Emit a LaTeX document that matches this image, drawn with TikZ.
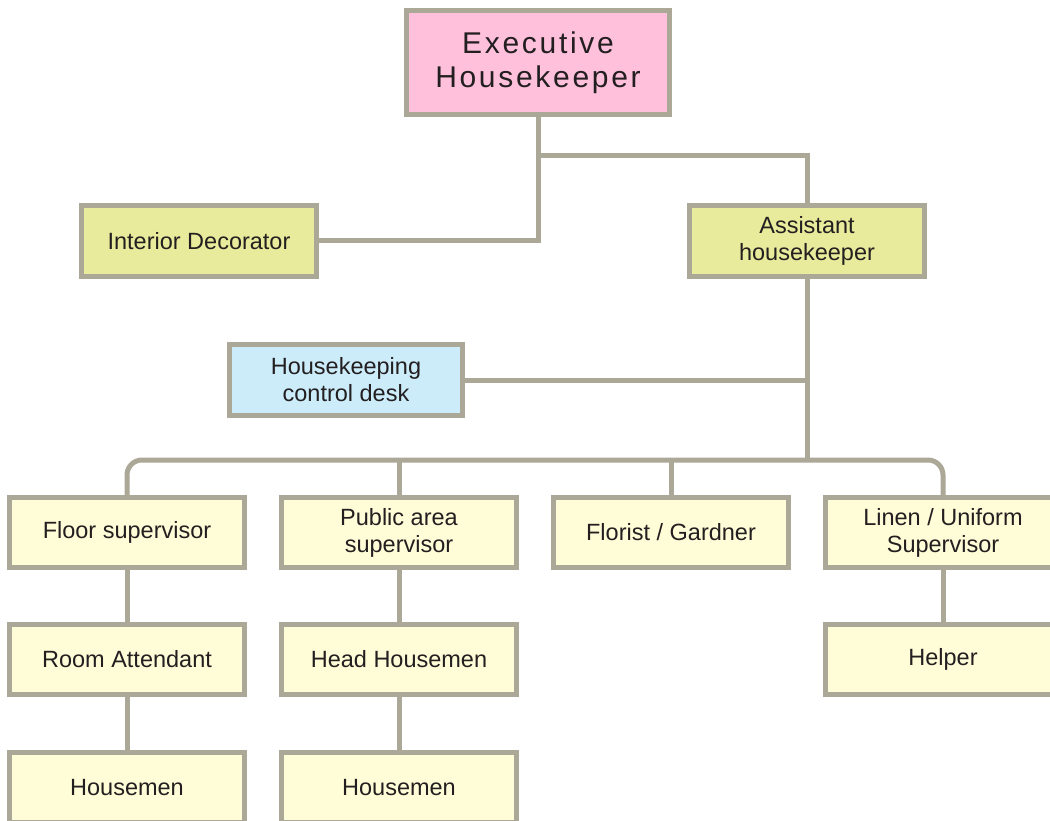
\documentclass[tikz,border=0pt]{standalone}
\usepackage{fontspec}
\setmainfont{Liberation Sans}
\newfontfamily\execfont[LetterSpace=9]{Liberation Sans}
\definecolor{linec}{RGB}{171,168,152}
\definecolor{pinkf}{RGB}{255,192,219}
\definecolor{greenf}{RGB}{232,235,155}
\definecolor{yellowf}{RGB}{255,252,216}
\definecolor{bluef}{RGB}{204,236,250}
\definecolor{textc}{RGB}{35,31,32}
\begin{document}
\begin{tikzpicture}[x=1pt,y=-1pt,
  box/.style={draw=linec,line width=5pt,minimum width=235pt,minimum height=70pt,inner sep=0pt,align=center,text=textc,font=\fontsize{23.5}{27}\selectfont},
  conn/.style={draw=linec,line width=5pt}]
\useasboundingbox (0,0) rectangle (1050,821);
\clip (0,0) rectangle (1050,821);
\fill[white] (0,0) rectangle (1050,821);
% top
\node[box,fill=pinkf,minimum width=263pt,minimum height=104pt,font=\execfont\fontsize{30}{33.5}\selectfont] (exec) at (538,62.5) {Executive\\Housekeeper};
\node[box,fill=greenf,minimum height=71pt] (interior) at (199,241) {Interior Decorator};
\node[box,fill=greenf,minimum height=71pt] (asst) at (807,241) {Assistant\\housekeeper};
\node[box,fill=bluef,minimum width=233pt,minimum height=71pt] (desk) at (346,380) {Housekeeping\\control desk};
% row 1
\node[box,fill=yellowf] (floor) at (127,532.5) {Floor supervisor};
\node[box,fill=yellowf] (public) at (399,532.5) {Public area\\supervisor};
\node[box,fill=yellowf] (florist) at (671,532.5) {Florist / Gardner};
\node[box,fill=yellowf] (linen) at (943,532.5) {Linen / Uniform\\Supervisor};
% row 2
\node[box,fill=yellowf] (room) at (127,659.5) {Room Attendant};
\node[box,fill=yellowf] (head) at (399,659.5) {Head Housemen};
\node[box,fill=yellowf] (helper) at (943,659.5) {Helper};
% row 3
\node[box,fill=yellowf] (hm1) at (127,787.5) {Housemen};
\node[box,fill=yellowf] (hm2) at (399,787.5) {Housemen};
% coordinates
\coordinate (j1) at (538,156);
\coordinate (busy) at (0,460);
% connectors
\draw[conn] (exec.south) -- (exec.south |- interior.east) -- (interior.east);
\draw[conn] (j1) -| (asst.north);
\draw[conn] (asst.south) -- (asst.south |- busy);
\draw[conn] (desk.east) -- (desk.east -| asst.south);
\draw[conn,rounded corners=15pt] (floor.north) |- (busy -| asst.south) -| (linen.north);
\draw[conn] (public.north) -- (public.north |- busy);
\draw[conn] (florist.north) -- (florist.north |- busy);
\draw[conn] (floor.south) -- (room.north);
\draw[conn] (room.south) -- (hm1.north);
\draw[conn] (public.south) -- (head.north);
\draw[conn] (head.south) -- (hm2.north);
\draw[conn] (linen.south) -- (helper.north);
\end{tikzpicture}
\end{document}
